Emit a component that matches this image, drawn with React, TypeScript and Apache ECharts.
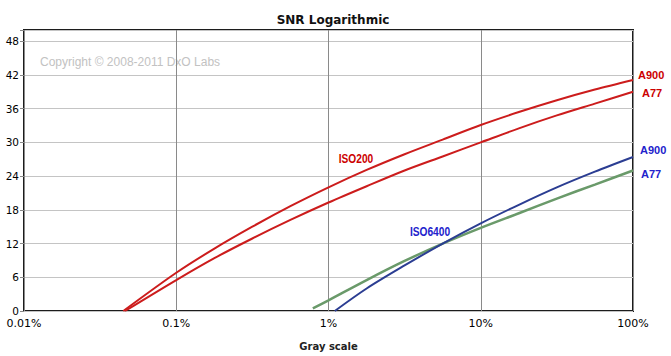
import React, { useEffect, useRef } from "react";
import * as echarts from "echarts";

// x: gray scale (%), y: SNR (dB)
const iso200A900: [number, number][] = [
  [0.0449, 0], [0.1, 6.8], [0.178, 11.1], [0.316, 15.0], [0.562, 18.65], [1, 22.0],
  [1.78, 25.1], [3.16, 27.9], [5.62, 30.5], [10, 33.1], [17.8, 35.4], [31.6, 37.5],
  [56.2, 39.4], [100, 41.1],
];
const iso200A77: [number, number][] = [
  [0.0461, 0], [0.1, 5.5], [0.178, 9.4], [0.316, 12.9], [0.562, 16.2], [1, 19.3],
  [1.78, 22.2], [3.16, 25.0], [5.62, 27.5], [10, 30.0], [17.8, 32.5], [31.6, 34.8],
  [56.2, 36.9], [100, 39.0],
];
const iso6400A900: [number, number][] = [
  [1.1, 0], [1.78, 4.0], [3.16, 8.1], [5.62, 12.0], [10, 15.6], [17.8, 18.9],
  [31.6, 22.0], [56.2, 24.8], [100, 27.4],
];
const iso6400A77: [number, number][] = [
  [0.789, 0.46], [1, 1.9], [1.78, 5.5], [3.16, 8.9], [5.62, 12.0], [10, 14.8],
  [17.8, 17.4], [31.6, 20.0], [56.2, 22.5], [100, 25.0],
];
const yTicks = [0, 6, 12, 18, 24, 30, 36, 42, 48];
const xTicks = [0.01, 0.1, 1, 10, 100];

const titleText = "SNR Logarithmic";
const xTitle = "Gray scale";
const copyright = "Copyright \u00a9 2008-2011 DxO Labs";

const RED = "#cc1c1c";
const BLUE = "#2b3d92";
const GREEN = "#6a9a6a";
const RED_LABEL = "#cc0000";
const BLUE_LABEL = "#2222cc";
const LAB_FONT = "'Liberation Sans', Arial, sans-serif";

export default function App() {
  const ref = useRef<HTMLDivElement>(null);
  useEffect(() => {
    if (!ref.current) return;
    const chart = echarts.init(ref.current, null, { renderer: "svg" });
    const endLabel = (text: string, color: string, offset: [number, number]) => ({
      show: true,
      formatter: text,
      color,
      fontFamily: LAB_FONT,
      fontWeight: "bold",
      fontSize: 11,
      offset,
    });
    const line = (name: string, data: [number, number][], color: string, width: number, label: any) => ({
      name,
      type: "line",
      data,
      symbol: "none",
      smooth: 0.3,
      lineStyle: { color, width },
      endLabel: label,
    });
    chart.setOption({
      animation: false,
      backgroundColor: "#ffffff",
      title: {
        text: titleText,
        left: 328,
        top: 9,
        textAlign: "center",
        textStyle: { fontFamily: "DejaVu Sans", fontWeight: "bold", fontSize: 12, color: "#111" },
      },
      grid: {
        left: 24,
        right: 38,
        top: 30,
        bottom: 43,
        show: true,
        borderColor: "#1c1c1c",
        borderWidth: 2,
        backgroundColor: "transparent",
      },
      xAxis: {
        type: "log",
        logBase: 10,
        min: xTicks[0],
        max: xTicks[xTicks.length - 1],
        name: xTitle,
        nameLocation: "middle",
        nameGap: 30,
        nameTextStyle: { fontFamily: "DejaVu Sans", fontWeight: "bold", fontSize: 10, color: "#222" },
        axisLine: { show: false },
        axisTick: { show: false },
        axisLabel: {
          fontFamily: "DejaVu Sans",
          fontSize: 11,
          color: "#000",
          margin: 7,
          formatter: (v: number) => `${v}%`,
        },
        splitLine: { show: true, lineStyle: { color: "#8a8a8a", width: 1 } },
      },
      yAxis: {
        type: "value",
        min: 0,
        max: 50,
        interval: 6,
        axisLine: { show: false },
        axisTick: { show: true, length: 4, lineStyle: { color: "#888" } },
        axisLabel: {
          fontFamily: "DejaVu Sans",
          fontSize: 10.5,
          color: "#000",
          margin: 5,
          formatter: (v: number) => (yTicks.includes(v) ? String(v) : ""),
        },
        splitLine: { show: true, lineStyle: { color: "#c4c4c4", width: 1 } },
      },
      graphic: [
        {
          type: "text",
          left: 40,
          top: 56,
          style: { text: copyright, fill: "#c2c2c2", font: "12px 'Liberation Sans', Arial, sans-serif" },
        },
        {
          type: "text",
          x: 356,
          y: 159,
          scaleX: 0.85,
          style: {
            text: "ISO200",
            fill: RED_LABEL,
            font: `bold 12px ${LAB_FONT}`,
            textAlign: "center",
            textVerticalAlign: "middle",
          },
        },
        {
          type: "text",
          x: 430,
          y: 232,
          scaleX: 0.85,
          style: {
            text: "ISO6400",
            fill: BLUE_LABEL,
            font: `bold 12px ${LAB_FONT}`,
            textAlign: "center",
            textVerticalAlign: "middle",
          },
        },
      ],
      series: [
        line("ISO200 A900", iso200A900, RED, 2, endLabel("A900", RED_LABEL, [-3, -5])),
        line("ISO200 A77", iso200A77, RED, 2, endLabel("A77", RED_LABEL, [1, 1])),
        line("ISO6400 A77", iso6400A77, GREEN, 2.5, endLabel("A77", BLUE_LABEL, [0, 3])),
        line("ISO6400 A900", iso6400A900, BLUE, 2, endLabel("A900", BLUE_LABEL, [-1, -7])),
      ],
    });
    return () => chart.dispose();
  }, []);
  return (
    <div
      ref={ref}
      style={{ position: "absolute", left: 0, top: 0, width: 671, height: 356, background: "#fff" }}
    />
  );
}
